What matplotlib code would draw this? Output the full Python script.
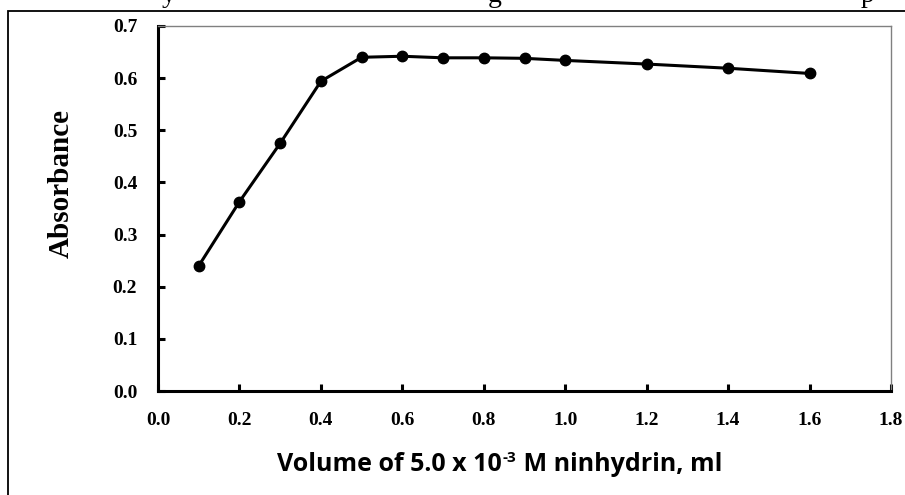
import matplotlib
matplotlib.use("Agg")
import matplotlib.pyplot as plt
from matplotlib.patches import Rectangle

volume_ml = [0.1, 0.2, 0.3, 0.4, 0.5, 0.6, 0.7, 0.8, 0.9, 1.0, 1.2, 1.4, 1.6]
absorbance = [0.240, 0.363, 0.475, 0.594, 0.640, 0.642, 0.639, 0.639, 0.638,
              0.634, 0.627, 0.619, 0.609]
x_ticks = [0.0, 0.2, 0.4, 0.6, 0.8, 1.0, 1.2, 1.4, 1.6, 1.8]
y_ticks = [0.0, 0.1, 0.2, 0.3, 0.4, 0.5, 0.6, 0.7]

W, H = 905, 495
fig = plt.figure(figsize=(W / 100, H / 100), dpi=100)

# outer frame (cropped at right and bottom)
fig.patches.append(Rectangle((8 / W, -0.2), 1.2, 1.2 - 11 / H,
                             transform=fig.transFigure, fill=False,
                             edgecolor="black", linewidth=1.3))

# fragments of the document text cut off at the top
for xp, ch in [(162, "y"), (488, "g"), (861, "p")]:
    fig.text(xp / W, 1 - 2 / H, ch, fontsize=20, family="Liberation Serif",
             va="baseline", ha="left")

ax = fig.add_axes([158 / W, 1 - 391 / H, (891 - 158) / W, (391 - 26) / H])
ax.plot(volume_ml, absorbance, color="black", linewidth=2.2, marker="o",
        markersize=7.5, zorder=3)

ax.set_xlim(0, 1.8)
ax.set_ylim(0, 0.7)
ax.set_xticks(x_ticks)
ax.set_yticks(y_ticks)
ax.set_xticklabels([f"{v:.1f}" for v in x_ticks])
ax.set_yticklabels([f"{v:.1f}" for v in y_ticks])

for s in ["left", "bottom"]:
    ax.spines[s].set_linewidth(2.2)
    ax.spines[s].set_color("black")
for s in ["top", "right"]:
    ax.spines[s].set_linewidth(1.0)
    ax.spines[s].set_color("#808080")

ax.tick_params(axis="both", direction="in", length=5, width=2.2,
               top=False, right=False)
ax.tick_params(axis="x", pad=15)
ax.tick_params(axis="y", pad=15)
for lab in ax.get_xticklabels() + ax.get_yticklabels():
    lab.set_fontfamily("Liberation Serif")
    lab.set_fontweight("bold")
    lab.set_fontsize(14)

ax.set_ylabel("Absorbance", fontsize=21, family="Liberation Serif",
              fontweight="bold")
ax.yaxis.set_label_coords(-(158 - 75) / (891 - 158), (391 - 183) / (391 - 26))

# x label built of three pieces (superscript exponent)
base_y = 1 - 471 / H
fs = 18
t1 = fig.text(277 / W, base_y, "Volume of 5.0 x 10", fontsize=fs,
              family="Open Sans", fontweight="bold", va="baseline", ha="left")
fig.canvas.draw()
r = fig.canvas.get_renderer()
x1 = t1.get_window_extent(r).x1
t2 = fig.text(x1 / W + 1 / W, base_y + 9 / H, "-3", fontsize=11,
              family="Open Sans", fontweight="bold", va="baseline", ha="left")
fig.canvas.draw()
x2 = t2.get_window_extent(r).x1
fig.text(x2 / W, base_y, " M ninhydrin, ml", fontsize=fs, family="Open Sans",
         fontweight="bold", va="baseline", ha="left")

fig.savefig("out.png", dpi=100)
